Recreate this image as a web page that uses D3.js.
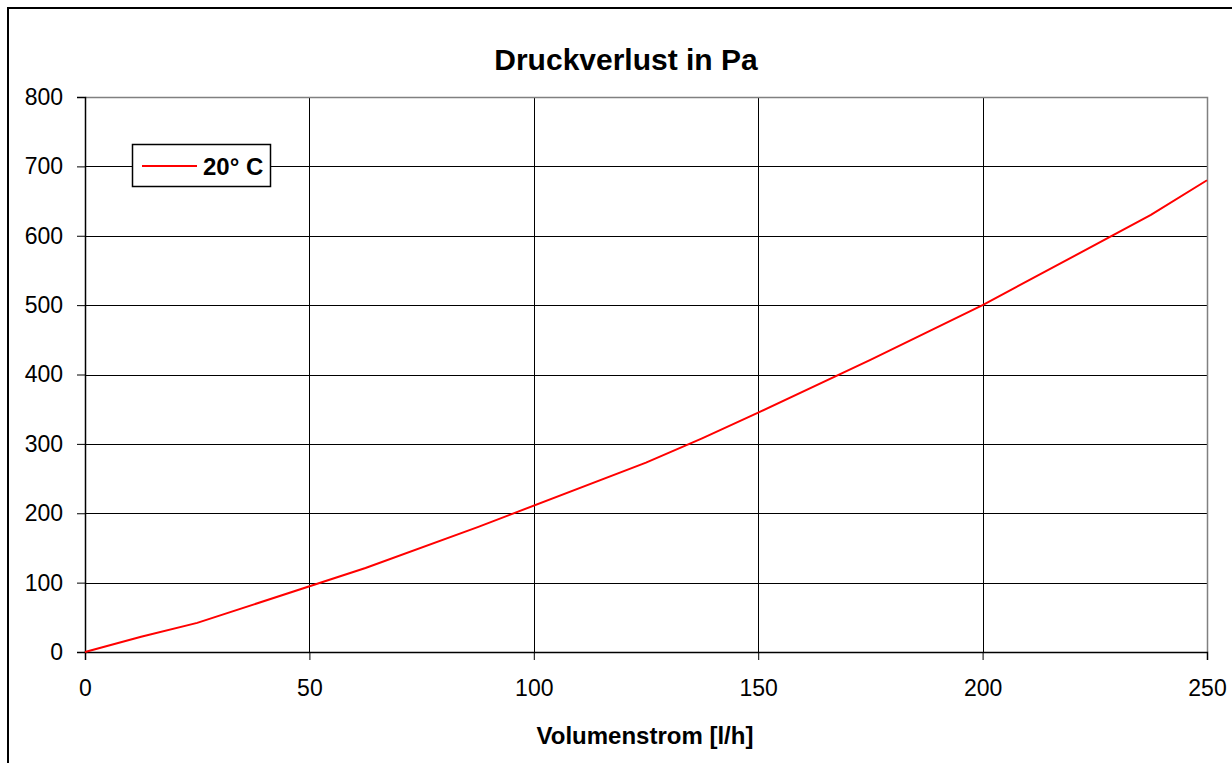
<!DOCTYPE html>
<html lang="de">
<head>
  <meta charset="UTF-8">
  <title>Druckverlust in Pa</title>
  <script src="https://d3js.org/d3.v7.min.js"></script>
  <style>
    body { margin: 0; background: #fff; }
    svg text { font-family: "Liberation Sans", Arial, sans-serif; fill: #000; }
  </style>
</head>
<body>
<div id="chart"></div>
<script>
  // Volumenstrom [l/h] and Druckverlust [Pa]
  const flow = [0, 12.5, 25, 62.5, 87.5, 125, 137.5, 150, 175, 200, 237.5, 250];
  const pressure = [0, 22, 42, 121, 180, 273, 308, 345, 421, 500, 630, 680];
  const xTicks = [0, 50, 100, 150, 200, 250];
  const yTicks = [0, 100, 200, 300, 400, 500, 600, 700, 800];
  const seriesName = '20° C';

  const W = 1232, H = 763;
  const margin = { top: 97, right: 25, bottom: 111, left: 85 };
  const width = W - margin.left - margin.right;
  const height = H - margin.top - margin.bottom;

  const svg = d3.select('#chart').append('svg')
    .attr('width', W).attr('height', H);

  // outer chart frame (runs off the right/bottom edge)
  svg.append('rect')
    .attr('x', 8).attr('y', 8)
    .attr('width', W + 20).attr('height', H + 20)
    .attr('fill', 'none').attr('stroke', '#000').attr('stroke-width', 2);

  svg.append('text')
    .attr('x', 626).attr('y', 70)
    .attr('text-anchor', 'middle')
    .attr('font-size', 30).attr('font-weight', 'bold')
    .text('Druckverlust in Pa');

  const g = svg.append('g').attr('transform', `translate(${margin.left},${margin.top})`);

  const x = d3.scaleLinear().domain([0, 250]).range([0, width]);
  const y = d3.scaleLinear().domain([0, 800]).range([height, 0]);

  // gridlines
  g.append('g').selectAll('line.h')
    .data(yTicks.slice(1, -1))
    .join('line')
    .attr('x1', 0).attr('x2', width)
    .attr('y1', d => Math.round(y(d)) + 0.5).attr('y2', d => Math.round(y(d)) + 0.5)
    .attr('stroke', '#000').attr('stroke-width', 1);
  g.append('g').selectAll('line.v')
    .data(xTicks.slice(1, -1))
    .join('line')
    .attr('y1', 0).attr('y2', height)
    .attr('x1', d => Math.round(x(d)) + 0.5).attr('x2', d => Math.round(x(d)) + 0.5)
    .attr('stroke', '#000').attr('stroke-width', 1);

  // plot area border (top/right gray)
  g.append('path')
    .attr('d', `M0.5,0.5H${width + 0.5}V${height}`)
    .attr('fill', 'none').attr('stroke', '#808080').attr('stroke-width', 1.5);

  // axes
  const xAxis = g.append('g')
    .attr('transform', `translate(0,${height})`)
    .call(d3.axisBottom(x).tickValues(xTicks).tickSize(8).tickPadding(20));
  const yAxis = g.append('g')
    .call(d3.axisLeft(y).tickValues(yTicks).tickSize(8).tickPadding(14));
  [xAxis, yAxis].forEach(a => {
    a.select('.domain').attr('stroke', '#000').attr('stroke-width', 1.5);
    a.selectAll('.tick line').attr('stroke', '#000');
    a.selectAll('.tick text')
      .attr('font-size', 23)
      .attr('font-family', '"Liberation Sans", Arial, sans-serif')
      .attr('fill', '#000');
  });

  // series line
  const line = d3.line()
    .x((d, i) => x(flow[i]))
    .y(d => y(d));
  g.append('path')
    .datum(pressure)
    .attr('fill', 'none')
    .attr('stroke', '#ff0000')
    .attr('stroke-width', 2)
    .attr('d', line);

  // x axis title
  svg.append('text')
    .attr('x', 645).attr('y', 744)
    .attr('text-anchor', 'middle')
    .attr('font-size', 24).attr('font-weight', 'bold')
    .text('Volumenstrom [l/h]');

  // legend
  const lg = svg.append('g').attr('transform', 'translate(132,144)');
  lg.append('rect')
    .attr('x', 0.5).attr('y', 0.5).attr('width', 138).attr('height', 42)
    .attr('fill', '#fff').attr('stroke', '#000').attr('stroke-width', 1.5);
  lg.append('line')
    .attr('x1', 10).attr('x2', 65).attr('y1', 22).attr('y2', 22)
    .attr('stroke', '#ff0000').attr('stroke-width', 2);
  lg.append('text')
    .attr('x', 71).attr('y', 31)
    .attr('font-size', 24).attr('font-weight', 'bold')
    .text(seriesName);
</script>
</body>
</html>
